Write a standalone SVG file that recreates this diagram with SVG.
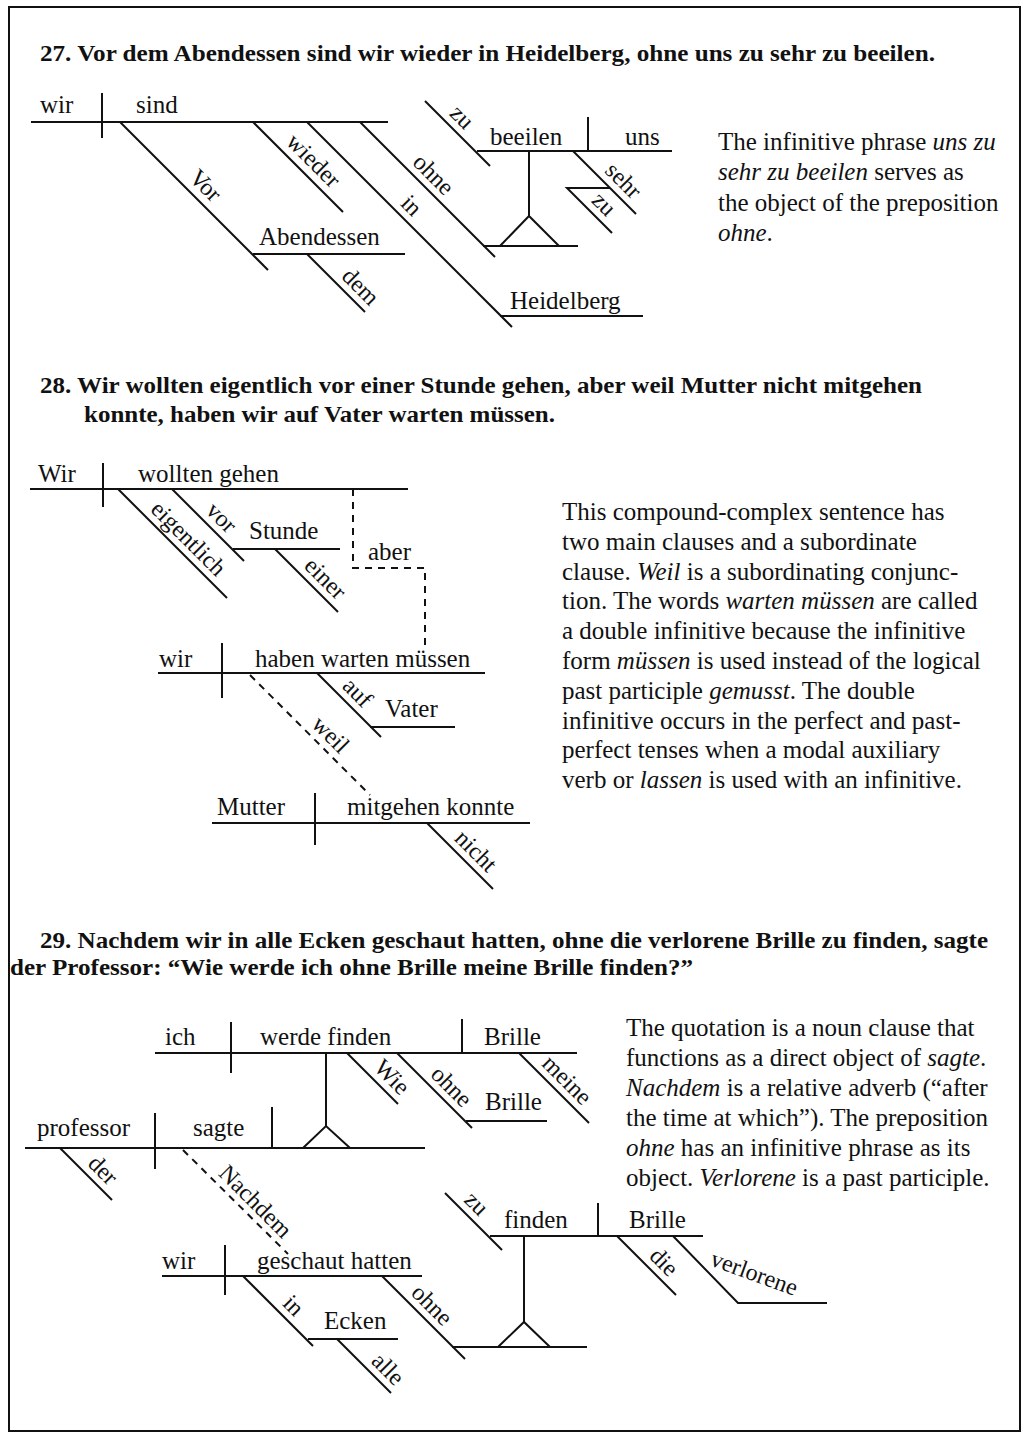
<svg xmlns="http://www.w3.org/2000/svg" width="1029" height="1439" viewBox="0 0 1029 1439">
<style>
.ln{stroke:#111;stroke-width:2;fill:none}
.ds{stroke:#111;stroke-width:2;fill:none;stroke-dasharray:7 6}
text{font-family:"Liberation Serif","Times New Roman",serif;fill:#111}
.w{font-size:25px}
.s{font-size:24px}
.h{font-size:24px;font-weight:bold}
.p{font-size:25px}
.i{font-style:italic}
</style>
<rect x="0" y="0" width="1029" height="1439" fill="#fff"/>
<rect x="9" y="7" width="1011" height="1424" class="ln"/>

<!-- Headings -->
<g id="h27"><text class="h" x="40" y="61" textLength="895" lengthAdjust="spacingAndGlyphs">27. Vor dem Abendessen sind wir wieder in Heidelberg, ohne uns zu sehr zu beeilen.</text></g>
<g id="h28">
<text class="h" x="40" y="393" textLength="882" lengthAdjust="spacingAndGlyphs">28. Wir wollten eigentlich vor einer Stunde gehen, aber weil Mutter nicht mitgehen</text>
<text class="h" x="84" y="422" textLength="471" lengthAdjust="spacingAndGlyphs">konnte, haben wir auf Vater warten müssen.</text>
</g>
<g id="h29">
<text class="h" x="40" y="948" textLength="948" lengthAdjust="spacingAndGlyphs">29. Nachdem wir in alle Ecken geschaut hatten, ohne die verlorene Brille zu finden, sagte</text>
<text class="h" x="10" y="975" textLength="683" lengthAdjust="spacingAndGlyphs">der Professor: “Wie werde ich ohne Brille meine Brille finden?”</text>
</g>

<!-- ===== Sentence 27 ===== -->
<g id="s27-wir"><path class="ln" d="M31,122 H102"/><text class="w" x="40" y="113">wir</text></g>
<g id="s27-divider"><path class="ln" d="M102,93 V138"/></g>
<g id="s27-sind"><path class="ln" d="M102,122 H388"/><text class="w" x="136" y="113">sind</text></g>
<g id="s27-vor"><path class="ln" d="M120,122 L268,270"/><text class="s" text-anchor="middle" transform="translate(200,191) rotate(45)">Vor</text></g>
<g id="s27-abendessen"><path class="ln" d="M253,254 H405"/><text class="w" x="259" y="245">Abendessen</text></g>
<g id="s27-dem"><path class="ln" d="M307,254 L365,312"/><text class="s" text-anchor="middle" transform="translate(355,292) rotate(45)">dem</text></g>
<g id="s27-wieder"><path class="ln" d="M253,122 L343,212"/><text class="s" text-anchor="middle" transform="translate(308,166) rotate(45)">wieder</text></g>
<g id="s27-in"><path class="ln" d="M307,122 L512,327"/><text class="s" text-anchor="middle" transform="translate(406,211) rotate(45)">in</text></g>
<g id="s27-heidelberg"><path class="ln" d="M500,316 H643"/><text class="w" x="510" y="309">Heidelberg</text></g>
<g id="s27-ohne"><path class="ln" d="M360,122 L495,257"/><text class="s" text-anchor="middle" transform="translate(428,180) rotate(45)">ohne</text></g>
<g id="s27-stand"><path class="ln" d="M483,246 H578 M500,246 L529,216 L559,246 M529,216 V151"/></g>
<g id="s27-beeilen"><path class="ln" d="M477,151 H588"/><text class="w" x="490" y="145">beeilen</text></g>
<g id="s27-divider2"><path class="ln" d="M588,117 V151"/></g>
<g id="s27-uns"><path class="ln" d="M588,151 H672"/><text class="w" x="625" y="145">uns</text></g>
<g id="s27-zu1"><path class="ln" d="M425,101 L490,166"/><text class="s" text-anchor="middle" transform="translate(456.5,122.5) rotate(45)">zu</text></g>
<g id="s27-sehr"><path class="ln" d="M573,151 L636,214"/><text class="s" text-anchor="middle" transform="translate(618,186) rotate(45)">sehr</text></g>
<g id="s27-zu2"><path class="ln" d="M610,188 H567 L612,233"/><text class="s" text-anchor="middle" transform="translate(598.5,209.5) rotate(45)">zu</text></g>

<g id="p27">
<text class="p" x="718" y="150">The infinitive phrase <tspan class="i">uns zu</tspan></text>
<text class="p" x="718" y="180"><tspan class="i">sehr zu beeilen</tspan> serves as</text>
<text class="p" x="718" y="211">the object of the preposition</text>
<text class="p" x="718" y="241"><tspan class="i">ohne</tspan>.</text>
</g>

<!-- ===== Sentence 28 ===== -->
<g id="s28-wir"><path class="ln" d="M30,489 H103"/><text class="w" x="38" y="482">Wir</text></g>
<g id="s28-divider1"><path class="ln" d="M103,463 V507"/></g>
<g id="s28-wolltengehen"><path class="ln" d="M103,489 H408"/><text class="w" x="138" y="482">wollten gehen</text></g>
<g id="s28-eigentlich"><path class="ln" d="M118,489 L227,598"/><text class="s" text-anchor="middle" transform="translate(183,544) rotate(45)">eigentlich</text></g>
<g id="s28-vor"><path class="ln" d="M172,489 L244,561"/><text class="s" text-anchor="middle" transform="translate(216,523) rotate(45)">vor</text></g>
<g id="s28-stunde"><path class="ln" d="M233,549 H340"/><text class="w" x="249" y="539">Stunde</text></g>
<g id="s28-einer"><path class="ln" d="M275,549 L338,612"/><text class="s" text-anchor="middle" transform="translate(320,584) rotate(45)">einer</text></g>
<g id="s28-wir2"><path class="ln" d="M158,673 H222"/><text class="w" x="159" y="667">wir</text></g>
<g id="s28-divider2"><path class="ln" d="M222,643 V698"/></g>
<g id="s28-haben"><path class="ln" d="M222,673 H485"/><text class="w" x="255" y="667">haben warten müssen</text></g>
<g id="s28-auf"><path class="ln" d="M317,673 L381,737"/><text class="s" text-anchor="middle" transform="translate(352,698) rotate(45)">auf</text></g>
<g id="s28-vater"><path class="ln" d="M370,727 H455"/><text class="w" x="385" y="717">Vater</text></g>
<g id="s28-mutter"><path class="ln" d="M212,823 H315"/><text class="w" x="217" y="815">Mutter</text></g>
<g id="s28-divider3"><path class="ln" d="M315,793 V845"/></g>
<g id="s28-mitgehen"><path class="ln" d="M315,823 H530"/><text class="w" x="347" y="815">mitgehen konnte</text></g>
<g id="s28-nicht"><path class="ln" d="M427,823 L493,889"/><text class="s" text-anchor="middle" transform="translate(470.5,856.5) rotate(45)">nicht</text></g>

<g id="s28-connectors">
<path class="ds" d="M353,489 V568 H425 V647"/>
<text class="w" x="368" y="560">aber</text>
<path class="ds" d="M250,675 L370,795"/>
<text class="s" text-anchor="middle" transform="translate(325,740) rotate(45)">weil</text>
</g>

<g id="p28">
<text class="p" x="562" y="520">This compound-complex sentence has</text>
<text class="p" x="562" y="550">two main clauses and a subordinate</text>
<text class="p" x="562" y="580">clause. <tspan class="i">Weil</tspan> is a subordinating conjunc-</text>
<text class="p" x="562" y="609">tion. The words <tspan class="i">warten müssen</tspan> are called</text>
<text class="p" x="562" y="639">a double infinitive because the infinitive</text>
<text class="p" x="562" y="669">form <tspan class="i">müssen</tspan> is used instead of the logical</text>
<text class="p" x="562" y="699">past participle <tspan class="i">gemusst</tspan>. The double</text>
<text class="p" x="562" y="729">infinitive occurs in the perfect and past-</text>
<text class="p" x="562" y="758">perfect tenses when a modal auxiliary</text>
<text class="p" x="562" y="788">verb or <tspan class="i">lassen</tspan> is used with an infinitive.</text>
</g>

<!-- ===== Sentence 29 ===== -->
<g id="s29-ich"><path class="ln" d="M155,1053 H231"/><text class="w" x="165" y="1045">ich</text></g>
<g id="s29-divider1"><path class="ln" d="M231,1022 V1073"/></g>
<g id="s29-werdefinden"><path class="ln" d="M231,1053 H462"/><text class="w" x="260" y="1045">werde finden</text></g>
<g id="s29-divider2"><path class="ln" d="M462,1019 V1053"/></g>
<g id="s29-brille1"><path class="ln" d="M462,1053 H577"/><text class="w" x="484" y="1045">Brille</text></g>
<g id="s29-wie"><path class="ln" d="M347,1053 L398,1104"/><text class="s" text-anchor="middle" transform="translate(386.5,1082.5) rotate(45)">Wie</text></g>
<g id="s29-ohne1"><path class="ln" d="M397,1053 L472,1128"/><text class="s" text-anchor="middle" transform="translate(446,1092) rotate(45)">ohne</text></g>
<g id="s29-brille2"><path class="ln" d="M466,1121 H547"/><text class="w" x="485" y="1110">Brille</text></g>
<g id="s29-meine"><path class="ln" d="M519,1053 L589,1123"/><text class="s" text-anchor="middle" transform="translate(561.5,1085.5) rotate(45)">meine</text></g>
<g id="s29-stand1"><path class="ln" d="M326,1053 V1126 M303,1148 L326,1126 L350,1148"/></g>
<g id="s29-professor"><path class="ln" d="M25,1148 H155"/><text class="w" x="37" y="1136">professor</text></g>
<g id="s29-divider3"><path class="ln" d="M155,1113 V1169"/></g>
<g id="s29-sagte"><path class="ln" d="M155,1148 H425"/><text class="w" x="193" y="1136">sagte</text></g>
<g id="s29-divider4"><path class="ln" d="M272,1107 V1148"/></g>
<g id="s29-der"><path class="ln" d="M60,1148 L112,1200"/><text class="s" text-anchor="middle" transform="translate(97.5,1175.5) rotate(45)">der</text></g>
<g id="s29-wir"><path class="ln" d="M162,1276 H225"/><text class="w" x="162" y="1269">wir</text></g>
<g id="s29-divider5"><path class="ln" d="M225,1245 V1295"/></g>
<g id="s29-geschaut"><path class="ln" d="M225,1276 H422"/><text class="w" x="257" y="1269">geschaut hatten</text></g>
<g id="s29-in"><path class="ln" d="M243,1276 L313,1346"/><text class="s" text-anchor="middle" transform="translate(288,1311) rotate(45)">in</text></g>
<g id="s29-ecken"><path class="ln" d="M308,1339 H398"/><text class="w" x="324" y="1329">Ecken</text></g>
<g id="s29-alle"><path class="ln" d="M337,1339 L391,1393"/><text class="s" text-anchor="middle" transform="translate(382.5,1374.5) rotate(45)">alle</text></g>
<g id="s29-ohne2"><path class="ln" d="M382,1276 L465,1359"/><text class="s" text-anchor="middle" transform="translate(426.5,1310.5) rotate(45)">ohne</text></g>
<g id="s29-stand2"><path class="ln" d="M452,1347 H587 M498,1347 L524,1322 L550,1347 M524,1322 V1236"/></g>
<g id="s29-finden"><path class="ln" d="M490,1236 H598"/><text class="w" x="504" y="1228">finden</text></g>
<g id="s29-zu"><path class="ln" d="M445,1193 L502,1250"/><text class="s" text-anchor="middle" transform="translate(471,1209) rotate(45)">zu</text></g>
<g id="s29-divider6"><path class="ln" d="M598,1203 V1236"/></g>
<g id="s29-brille3"><path class="ln" d="M598,1236 H703"/><text class="w" x="629" y="1228">Brille</text></g>
<g id="s29-die"><path class="ln" d="M617,1236 L676,1295"/><text class="s" text-anchor="middle" transform="translate(658.5,1267.5) rotate(45)">die</text></g>
<g id="s29-verlorene"><path class="ln" d="M673,1236 L738,1303 H827"/><text class="s" transform="translate(709,1265) rotate(20)">verlorene</text></g>

<g id="s29-connectors">
<path class="ds" d="M183,1150 L288,1254"/>
<text class="s" text-anchor="middle" transform="translate(250,1207) rotate(45)">Nachdem</text>
</g>

<g id="p29">
<text class="p" x="626" y="1036">The quotation is a noun clause that</text>
<text class="p" x="626" y="1066">functions as a direct object of <tspan class="i">sagte</tspan>.</text>
<text class="p" x="626" y="1096"><tspan class="i">Nachdem</tspan> is a relative adverb (“after</text>
<text class="p" x="626" y="1126">the time at which”). The preposition</text>
<text class="p" x="626" y="1156"><tspan class="i">ohne</tspan> has an infinitive phrase as its</text>
<text class="p" x="626" y="1186">object. <tspan class="i">Verlorene</tspan> is a past participle.</text>
</g>
</svg>
